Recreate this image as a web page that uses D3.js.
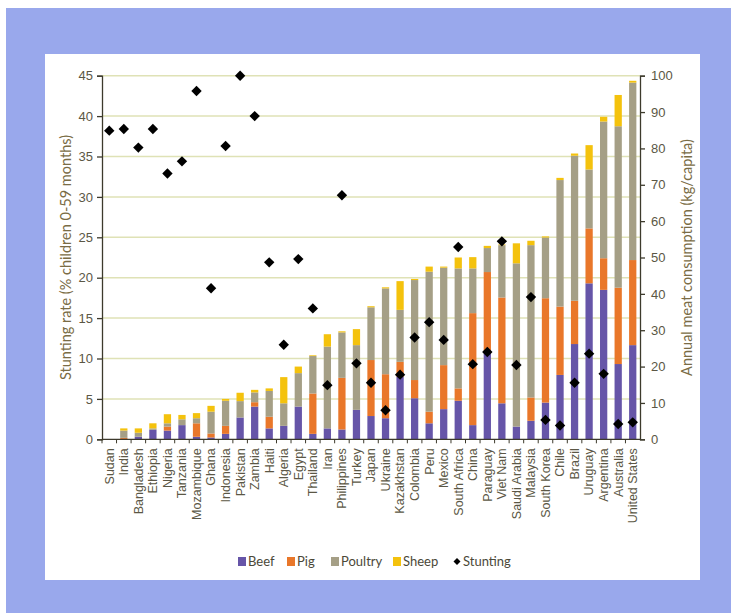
<!DOCTYPE html>
<html><head><meta charset="utf-8">
<script src="https://cdn.jsdelivr.net/npm/d3@7"></script>
<style>
html,body{margin:0;padding:0;background:#fff;}
svg{display:block;font-family:Lato,"Open Sans",sans-serif;}
</style></head>
<body>
<svg id="chart" width="731" height="613"></svg>
<script>
const countries = ["Sudan","India","Bangladesh","Ethiopia","Nigeria","Tanzania","Mozambique","Ghana","Indonesia","Pakistan","Zambia","Haiti","Algeria","Egypt","Thailand","Iran","Philippines","Turkey","Japan","Ukraine","Kazakhstan","Colombia","Peru","Mexico","South Africa","China","Paraguay","Viet Nam","Saudi Arabia","Malaysia","South Korea","Chile","Brazil","Uruguay","Argentina","Australia","United States"];
const beef    = [0,0.1,0.7,2.6,2.4,3.9,0.7,0.5,1.5,6.0,9.0,3.0,3.7,9.0,1.5,3.0,2.7,8.1,6.4,5.8,17.2,11.3,4.4,8.3,10.6,3.9,23.7,9.9,3.5,5.1,10.1,17.7,26.2,42.9,41.1,20.7,25.9];
const pig     = [0,0.3,0,0,1.1,0,3.7,1.1,2.2,0,1.2,3.2,0,0,11.1,0,14.2,0,15.4,12.1,4.1,5.0,3.2,12.1,3.4,30.8,22.3,29.1,0,6.4,28.7,18.8,11.9,15.1,8.7,21.0,23.4];
const poultry = [0,2.0,1.1,0.4,0.9,1.6,1.4,6.0,6.9,4.5,2.7,7.1,6.2,9.2,10.3,22.5,12.5,17.8,14.5,23.6,14.3,27.5,38.5,26.8,33.0,12.3,6.6,14.4,44.9,41.9,16.7,34.8,39.9,16.2,37.6,44.4,48.8];
const sheep   = [0,0.6,1.2,1.4,2.5,1.2,1.4,1.6,0.5,2.3,0.7,0.7,7.2,1.8,0.2,3.4,0.3,4.4,0.3,0.3,7.9,0.3,1.4,0.3,3.0,3.1,0.6,0.2,5.5,1.2,0.3,0.6,0.6,6.7,1.3,8.6,0.5];
const stunting = [38.2,38.4,36.1,38.4,32.9,34.4,43.1,18.7,36.3,45.0,40.0,21.9,11.7,22.3,16.2,6.7,30.2,9.4,7.0,3.6,8.0,12.6,14.5,12.3,23.8,9.3,10.8,24.5,9.2,17.6,2.4,1.7,7.0,10.6,8.1,1.9,2.1];
const seriesNames = ["Beef","Pig","Poultry","Sheep"];
const seriesColors = ["#6655a8","#e9772a","#a59f86","#f4c20d"];
const leftTicks = [0,5,10,15,20,25,30,35,40,45];
const rightTicks = [0,10,20,30,40,50,60,70,80,90,100];

const svg = d3.select("#chart");
svg.append("rect").attr("x",0).attr("y",0).attr("width",731).attr("height",613).attr("fill","#ffffff");
svg.append("rect").attr("x",6).attr("y",8).attr("width",725).attr("height",605).attr("fill","#99a8ec");
svg.append("rect").attr("x",45).attr("y",54).attr("width",655).attr("height",526).attr("fill","#ffffff");

const L=102, R=640, T=75.7, B=439.3;
const x = d3.scaleBand().domain(countries).range([L,R]).paddingInner(0.5).paddingOuter(0.25);
const yL = d3.scaleLinear().domain([0,45]).range([B,T]);
const yR = d3.scaleLinear().domain([0,100]).range([B,T]);

svg.append("g").selectAll("line").data(leftTicks.slice(1)).join("line")
  .attr("x1",L).attr("x2",R).attr("y1",d=>yL(d)).attr("y2",d=>yL(d))
  .attr("stroke","#dfe2b6").attr("stroke-width",1.5);

const table = countries.map((c,i)=>({country:c,Beef:beef[i],Pig:pig[i],Poultry:poultry[i],Sheep:sheep[i]}));
const stack = d3.stack().keys(seriesNames)(table);
svg.append("g").selectAll("g").data(stack).join("g")
  .attr("fill",(d,i)=>seriesColors[i])
  .selectAll("rect").data(d=>d).join("rect")
  .attr("x",d=>x(d.data.country)).attr("width",x.bandwidth())
  .attr("y",d=>yR(d[1])).attr("height",d=>Math.max(0,yR(d[0])-yR(d[1])));

const txtCol = "#5b5745";
const gl = svg.append("g").attr("transform",`translate(${L},0)`)
  .call(d3.axisLeft(yL).tickValues(leftTicks).tickSize(5).tickPadding(4));
const gr = svg.append("g").attr("transform",`translate(${R},0)`)
  .call(d3.axisRight(yR).tickValues(rightTicks).tickSize(5).tickPadding(6));
[gl,gr].forEach(g=>{
  g.select(".domain").attr("stroke","#3d3a2c").attr("stroke-width",1.3);
  g.selectAll(".tick line").attr("stroke","#3d3a2c").attr("stroke-width",1.3);
  g.selectAll(".tick text").attr("fill",txtCol).attr("font-size",13);
});
const gx = svg.append("g").attr("transform",`translate(0,${B})`)
  .call(d3.axisBottom(x).tickSize(0).tickPadding(0));
gx.select(".domain").remove();
svg.append("line").attr("x1",L).attr("x2",R).attr("y1",B).attr("y2",B).attr("stroke","#3d3a2c").attr("stroke-width",1.3);
svg.append("g").selectAll("line").data(countries).join("line")
  .attr("x1",d=>x(d)-x.step()*0.25).attr("x2",d=>x(d)-x.step()*0.25)
  .attr("y1",B).attr("y2",B+4).attr("stroke","#3d3a2c").attr("stroke-width",1);
gx.selectAll(".tick text")
  .attr("transform","rotate(-90)")
  .attr("text-anchor","end").attr("dx","-9").attr("dy","0.35em").attr("y",0)
  .attr("fill",txtCol).attr("font-size",12.5);

const dpath = "M0,-5.2L5.2,0L0,5.2L-5.2,0Z";
svg.append("g").selectAll("path").data(stunting).join("path")
  .attr("d",dpath)
  .attr("transform",(d,i)=>`translate(${x(countries[i])+x.bandwidth()/2},${yL(d)})`)
  .attr("fill","#000");

svg.append("text").attr("transform",`translate(71,${(T+B)/2}) rotate(-90)`)
  .attr("text-anchor","middle").attr("fill","#7a6c45").attr("font-size",14.5)
  .text("Stunting rate (% children 0-59 months)");
svg.append("text").attr("transform",`translate(692,${(T+B)/2}) rotate(-90)`)
  .attr("text-anchor","middle").attr("fill","#7a6c45").attr("font-size",14.5)
  .text("Annual meat consumption (kg/capita)");

const legItems = [
  {name:"Beef",color:seriesColors[0],x:238},
  {name:"Pig",color:seriesColors[1],x:287},
  {name:"Poultry",color:seriesColors[2],x:331},
  {name:"Sheep",color:seriesColors[3],x:393},
];
const ly = 561.5;
const leg = svg.append("g");
legItems.forEach(it=>{
  leg.append("rect").attr("x",it.x).attr("y",ly-4.5).attr("width",8).attr("height",9).attr("fill",it.color);
  leg.append("text").attr("x",it.x+10).attr("y",ly).attr("dy","0.35em").attr("fill","#4b4838").attr("font-size",13).text(it.name);
});
leg.append("path").attr("d","M0,-3.5L3.5,0L0,3.5L-3.5,0Z").attr("transform",`translate(457,${ly})`).attr("fill","#000");
leg.append("text").attr("x",463).attr("y",ly).attr("dy","0.35em").attr("fill","#4b4838").attr("font-size",13).text("Stunting");
</script>
</body></html>
